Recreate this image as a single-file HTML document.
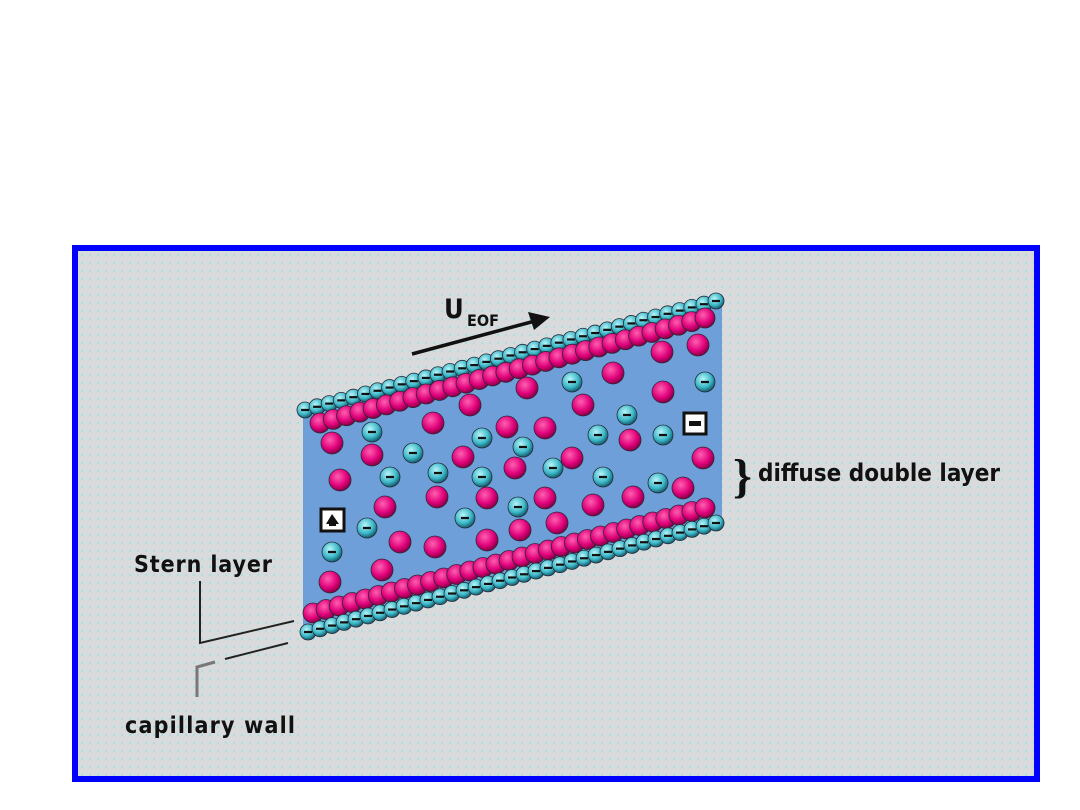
<!DOCTYPE html>
<html><head><meta charset="utf-8"><style>
html,body{margin:0;padding:0;background:#fff;width:1080px;height:810px;overflow:hidden}
#box{position:absolute;left:72px;top:245px;width:956px;height:525px;border:6px solid #0000ff;
background-color:#d9dadb;background-image:radial-gradient(circle,#a9dfe4 1px,transparent 1.3px);background-size:8px 8px}
svg{position:absolute;left:0;top:0}
text{font-family:"DejaVu Sans Condensed","DejaVu Sans","Liberation Sans",sans-serif;font-weight:bold;fill:#111}
</style></head><body>
<div id="box"></div>
<svg id="s" width="1080" height="810" xmlns="http://www.w3.org/2000/svg">
<defs>
<radialGradient id="m" cx="0.4" cy="0.35" r="0.7"><stop offset="0" stop-color="#ff5fb0"/><stop offset="0.6" stop-color="#e0007a"/><stop offset="1" stop-color="#70003a"/></radialGradient>
<radialGradient id="c" cx="0.4" cy="0.35" r="0.7"><stop offset="0" stop-color="#b8f4f8"/><stop offset="0.6" stop-color="#3cb8c8"/><stop offset="1" stop-color="#0a4a5a"/></radialGradient>
</defs>
<polygon points="303,412 722,300 722,523 303,632" fill="#6f9fd8"/>
<g id="g"></g>
<line x1="412" y1="354" x2="535" y2="321" stroke="#111" stroke-width="3.5"/>
<polygon points="550,317 528,312 534,330" fill="#111"/>
<text x="444" y="318" font-size="27">U</text>
<text x="467" y="326" font-size="16">EOF</text>
<text x="733" y="492" font-size="48" font-weight="normal" style="font-family:'Liberation Serif',serif">}</text>
<text x="758" y="481" font-size="24">diffuse double layer</text>
<text x="134" y="572" font-size="23" textLength="138">Stern layer</text>
<text x="125" y="733" font-size="23" textLength="170">capillary wall</text>
<polyline points="200,581 200,643 294,621" fill="none" stroke="#222" stroke-width="2"/>
<polyline points="197,697 197,667 215,662" fill="none" stroke="#777" stroke-width="3"/>
<line x1="225" y1="659" x2="288" y2="643" stroke="#222" stroke-width="2"/>
</svg>
<script>
var g=document.getElementById('g'),h='';
function c(x,y,t,r){r=r||10;h+='<circle cx="'+x+'" cy="'+y+'" r="'+r+'" fill="url(#'+t+')" stroke="#2a2a3a" stroke-width="0.8"/>';
 if(t=='c')h+='<line x1="'+(x-4)+'" y1="'+y+'" x2="'+(x+4)+'" y2="'+y+'" stroke="#111" stroke-width="2.2"/>';}
function row(x1,y1,x2,y2,n,t,r){for(var i=0;i<n;i++){var f=i/(n-1);c(x1+(x2-x1)*f,y1+(y2-y1)*f,t,r);}}
row(305,410,716,301,35,'c',8);
row(320,423,705,318,30,'m',10);
row(313,613,705,508,31,'m',10);
row(308,632,716,523,35,'c',8);
var M=[[662,352],[698,345],[613,373],[663,392],[527,388],[583,405],[470,405],[433,423],[507,427],[545,428],[630,440],[332,443],[372,455],[463,457],[703,458],[572,458],[515,468],[340,480],[437,497],[487,498],[545,498],[385,507],[593,505],[633,497],[683,488],[557,523],[520,530],[400,542],[435,547],[487,540],[382,570],[330,582]];
var C=[[572,382],[705,382],[627,415],[372,432],[482,438],[598,435],[663,435],[523,447],[413,453],[390,477],[438,473],[482,477],[553,468],[603,477],[658,483],[518,507],[465,518],[367,528],[332,552]];
M.forEach(function(p){c(p[0],p[1],'m',11)});C.forEach(function(p){c(p[0],p[1],'c',10)});
h+='<rect x="684" y="413" width="22" height="21" fill="#fff" stroke="#111" stroke-width="3"/><rect x="689" y="421" width="12" height="5" fill="#111"/>';
h+='<rect x="321" y="509" width="23" height="22" fill="#fff" stroke="#111" stroke-width="3"/><path d="M326 524 L332 514 L339 524 Z" fill="#111"/><rect x="329" y="521" width="7" height="5" fill="#111"/>';
g.innerHTML=h;
</script>
</body></html>
